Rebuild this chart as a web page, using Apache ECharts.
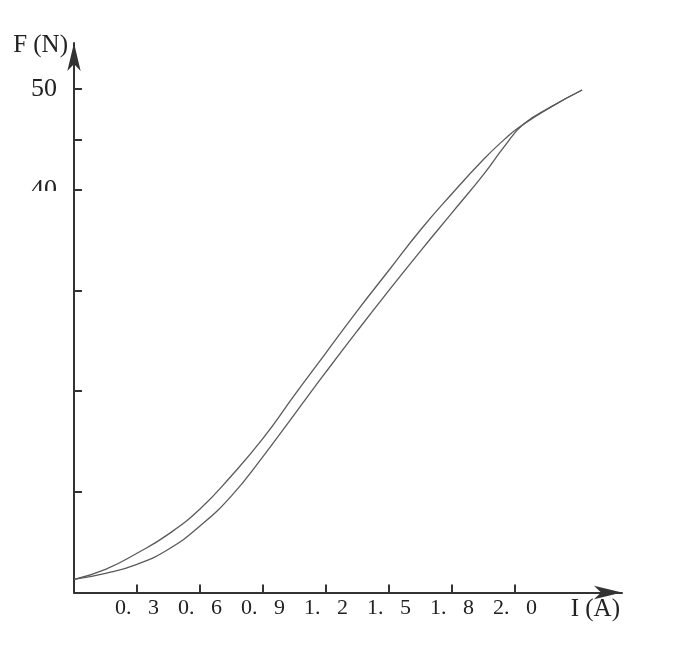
<!DOCTYPE html>
<html>
<head>
<meta charset="utf-8">
<script src="https://cdn.jsdelivr.net/npm/echarts@6/dist/echarts.min.js"></script>
<style>
html,body{margin:0;padding:0;background:#fff;}
#chart{width:681px;height:648px;}
</style>
</head>
<body>
<div id="chart"></div>
<script>
// Data
const xTickValues = [0.3, 0.6, 0.9, 1.2, 1.5, 1.8, 2.1];
const xTickLabels = ['0.   3', '0.   6', '0.   9', '1.   2', '1.   5', '1.   8', '2.   0'];
const yTickValues = [10, 20, 30, 40, 45, 50];
const yLabelValues = [40, 50];
const yLabelTexts = ['40', '50'];

// upper (rising) branch: [I (A), F (N)]
const upperI = [0, 0.15, 0.30, 0.45, 0.60, 0.75, 0.90, 1.05, 1.20, 1.35, 1.50, 1.65, 1.80, 1.95, 2.05, 2.12, 2.27, 2.42];
const upperF = [1.3, 2.3, 3.9, 5.8, 8.3, 11.6, 15.3, 19.6, 23.8, 28.0, 32.0, 36.0, 39.6, 43.0, 45.0, 46.2, 48.2, 49.9];
// lower (returning) branch
const lowerI = [0, 0.15, 0.30, 0.45, 0.60, 0.75, 0.90, 1.05, 1.20, 1.35, 1.50, 1.65, 1.80, 1.95, 2.05, 2.14, 2.27, 2.42];
const lowerF = [1.3, 1.9, 2.8, 4.3, 6.6, 9.6, 13.5, 17.7, 21.9, 26.0, 30.0, 33.9, 37.7, 41.5, 44.3, 46.5, 48.2, 49.9];

const upper = upperI.map((v, i) => [v, upperF[i]]);
const lower = lowerI.map((v, i) => [v, lowerF[i]]);

const chart = echarts.init(document.getElementById('chart'), null, {renderer: 'canvas'});
const serif = '"Liberation Serif", "DejaVu Serif", serif';
const axisColor = '#333333';

chart.setOption({
  animation: false,
  backgroundColor: '#ffffff',
  grid: {left: 74, right: 59, top: 43, bottom: 55.5, containLabel: false},
  xAxis: {
    type: 'value', min: 0, max: 2.61,
    name: 'I (A)', nameLocation: 'end', nameGap: -2,
    nameTextStyle: {fontFamily: serif, fontSize: 25, color: '#222', align: 'right', verticalAlign: 'top', padding: [4, 0, 0, 0]},
    axisLine: {show: true, lineStyle: {color: axisColor, width: 2}, symbol: ['none', 'arrow'], symbolSize: [10, 28]},
    axisTick: {show: true, inside: true, length: 8, lineStyle: {color: axisColor, width: 2}, customValues: xTickValues},
    axisLabel: {
      show: true, margin: 5, fontFamily: serif, fontSize: 22, color: '#222',
      customValues: xTickValues,
      formatter: v => { const i = xTickValues.findIndex(t => Math.abs(t - v) < 1e-6); return i >= 0 ? xTickLabels[i] : ''; }
    },
    splitLine: {show: false}
  },
  yAxis: {
    type: 'value', min: 0, max: 54.57,
    name: 'F (N)', nameLocation: 'end', nameGap: -2,
    nameTextStyle: {fontFamily: serif, fontSize: 25, color: '#222', align: 'right', verticalAlign: 'middle', padding: [0, 6, 0, 0]},
    axisLine: {show: true, lineStyle: {color: axisColor, width: 2}, symbol: ['none', 'arrow'], symbolSize: [10, 28]},
    axisTick: {show: true, inside: true, length: 8, lineStyle: {color: axisColor, width: 2}, customValues: yTickValues},
    axisLabel: {
      show: true, margin: 17, fontFamily: serif, fontSize: 26, color: '#222',
      customValues: yLabelValues,
      formatter: v => { const i = yLabelValues.indexOf(v); return i >= 0 ? yLabelTexts[i] : ''; }
    },
    splitLine: {show: false}
  },
  graphic: [
    // the reference's "40" label is partly hidden beneath a white strip
    {type: 'rect', z: 100, shape: {x: 20, y: 191, width: 52, height: 20}, style: {fill: '#ffffff'}}
  ],
  series: [
    {type: 'line', data: upper, smooth: 0.5, showSymbol: false, lineStyle: {color: '#5a5a5a', width: 1.3}},
    {type: 'line', data: lower, smooth: 0.5, showSymbol: false, lineStyle: {color: '#5a5a5a', width: 1.3}}
  ]
});
</script>
</body>
</html>
